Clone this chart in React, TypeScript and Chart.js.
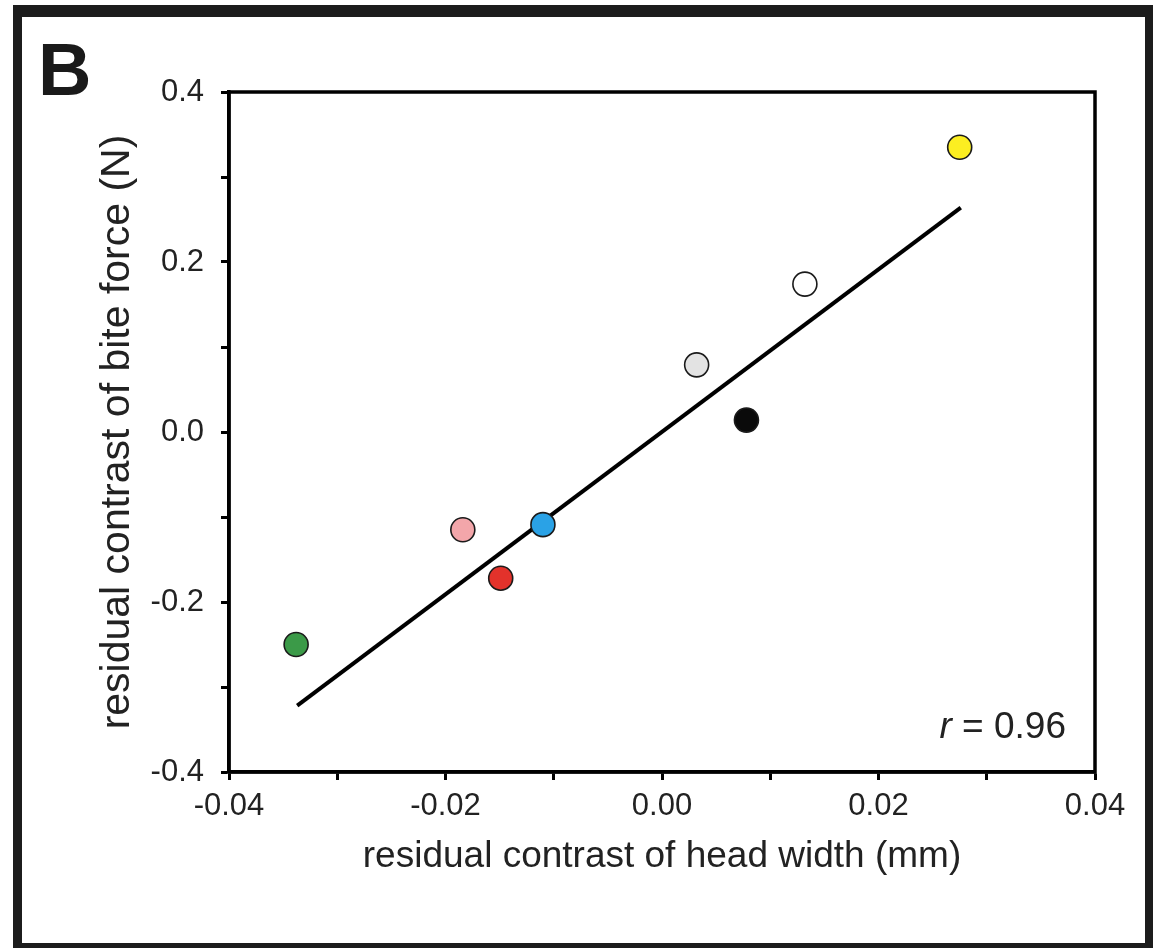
import React, { useEffect, useRef } from "react";
import { Chart, registerables } from "chart.js";

Chart.register(...registerables);

// ---- data ----
const headWidthContrast = [-0.0338, -0.0184, -0.0149, -0.011, 0.0032, 0.0078, 0.0132, 0.0275];
const biteForceContrast = [-0.25, -0.115, -0.172, -0.109, 0.079, 0.014, 0.174, 0.335];
const pointColors = ["#3b9a48", "#f3a6aa", "#e3322b", "#2aa2e6", "#e3e3e3", "#0a0a0a", "#ffffff", "#fcee21"];
const fitLineX = [-0.0337, 0.0276];
const fitLineY = [-0.322, 0.264];
const xRange = [-0.04, 0.04];
const yRange = [-0.4, 0.4];
const xStep = 0.01;
const yStep = 0.1;
const xTitle = "residual contrast of head width (mm)";
const yTitle = "residual contrast of bite force (N)";
const panelLabel = "B";
const rSymbol = "r";
const rValue = " = 0.96";

const FONT = "'Liberation Sans', Arial, Helvetica, sans-serif";
const W = 1153;
const H = 948;

const decor = {
  id: "decor",
  beforeDraw(chart: any) {
    const { ctx } = chart;
    ctx.save();
    ctx.fillStyle = "#ffffff";
    ctx.fillRect(0, 0, W, H);
    ctx.restore();
  },
  afterDraw(chart: any) {
    const { ctx, chartArea: a } = chart;
    ctx.save();
    // plot box
    ctx.strokeStyle = "#000";
    ctx.lineWidth = 3.5;
    ctx.strokeRect(a.left, a.top, a.right - a.left, a.bottom - a.top);
    // outer frame
    ctx.fillStyle = "#1c1c1c";
    ctx.fillRect(13, 5, W - 13, 12);
    ctx.fillRect(13, 5, 9, H - 5);
    ctx.fillRect(1145, 5, 8, H - 5);
    ctx.fillRect(13, 943, W - 13, 5);
    // panel label
    ctx.fillStyle = "#1a1a1a";
    ctx.font = `bold 74px ${FONT}`;
    ctx.textAlign = "left";
    ctx.textBaseline = "alphabetic";
    ctx.fillText(panelLabel, 38, 95);
    // r = 0.96
    ctx.fillStyle = "#222";
    ctx.font = `37px ${FONT}`;
    const wVal = ctx.measureText(rValue).width;
    ctx.font = `italic 37px ${FONT}`;
    const wR = ctx.measureText(rSymbol).width;
    const right = 1066;
    const base = 738;
    ctx.fillText(rSymbol, right - wVal - wR, base);
    ctx.font = `37px ${FONT}`;
    ctx.fillText(rValue, right - wVal, base);
    ctx.restore();
  },
};

export default function App() {
  const ref = useRef<HTMLCanvasElement | null>(null);

  useEffect(() => {
    if (!ref.current) return;
    const chart = new Chart(ref.current, {
      type: "scatter",
      data: {
        datasets: [
          {
            type: "scatter",
            data: headWidthContrast.map((x, i) => ({ x, y: biteForceContrast[i] })),
            pointRadius: 12,
            pointHoverRadius: 12,
            pointBackgroundColor: pointColors,
            pointBorderColor: "#1a1a1a",
            pointBorderWidth: 1.6,
            order: 0,
          },
          {
            type: "line",
            data: fitLineX.map((x, i) => ({ x, y: fitLineY[i] })),
            borderColor: "#000",
            borderWidth: 4,
            pointRadius: 0,
            fill: false,
            order: 1,
          },
        ],
      },
      options: {
        animation: false,
        responsive: false,
        devicePixelRatio: 1,
        layout: { padding: { left: 0, top: 92, right: 58, bottom: 0 } },
        plugins: { legend: { display: false }, tooltip: { enabled: false } },
        scales: {
          x: {
            type: "linear",
            min: xRange[0],
            max: xRange[1],
            afterFit: (s: any) => {
              s.height = 176;
            },
            ticks: {
              stepSize: xStep,
              color: "#222",
              padding: 8,
              maxRotation: 0,
              autoSkip: false,
              font: { family: FONT, size: 31 },
              callback: (v: any) => {
                const n = Math.round(Number(v) * 100);
                if (n % 2 !== 0) return "";
                return (n / 100).toFixed(2);
              },
            },
            grid: { drawOnChartArea: false, drawTicks: true, tickLength: 8, tickWidth: 3, tickColor: "#000" },
            border: { display: true, color: "#000", width: 3.5 },
            title: {
              display: true,
              text: xTitle,
              color: "#222",
              font: { family: FONT, size: 37 },
              padding: { top: 0, bottom: 69 },
            },
          },
          y: {
            type: "linear",
            min: yRange[0],
            max: yRange[1],
            afterFit: (s: any) => {
              s.width = 229;
            },
            ticks: {
              stepSize: yStep,
              color: "#222",
              padding: 17,
              autoSkip: false,
              font: { family: FONT, size: 31 },
              callback: (v: any) => {
                const n = Math.round(Number(v) * 10);
                if (n % 2 !== 0) return "";
                return (n / 10).toFixed(1);
              },
            },
            grid: { drawOnChartArea: false, drawTicks: true, tickLength: 8, tickWidth: 3, tickColor: "#000" },
            border: { display: true, color: "#000", width: 3.5 },
            title: {
              display: true,
              text: yTitle,
              color: "#222",
              font: { family: FONT, size: 41 },
              padding: { top: 93, bottom: 0 },
            },
          },
        },
      },
      plugins: [decor],
    });
    return () => chart.destroy();
  }, []);

  return (
    <div style={{ position: "absolute", left: 0, top: 0, width: W, height: H }}>
      <canvas ref={ref} width={W} height={H} style={{ width: W, height: H, display: "block" }} />
    </div>
  );
}
